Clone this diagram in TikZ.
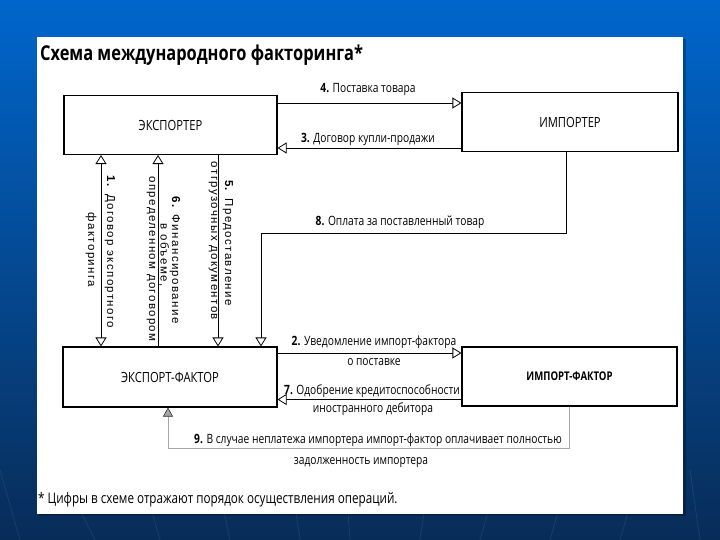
\documentclass[tikz,border=0pt]{standalone}
\usepackage{fontspec}
\setmainfont{Open Sans}
\newfontfamily\cf[FakeStretch=0.8]{Open Sans}
\newfontfamily\vf[LetterSpace=12]{Liberation Sans}
\usetikzlibrary{arrows.meta,calc}
\definecolor{slideTop}{RGB}{0,102,204}
\definecolor{slideBot}{RGB}{8,44,88}
\tikzset{
  box/.style={draw=black,line width=1.1pt,fill=white,inner sep=0pt,font=\cf\fontsize{14}{16}\selectfont},
  arr/.style={line width=0.8pt,-{Triangle[length=9pt,width=11pt,fill=white,line width=0.8pt]}},
  arrb/.style={line width=0.8pt,{Triangle[length=9pt,width=11pt,fill=white,line width=0.8pt]}-{Triangle[length=9pt,width=11pt,fill=white,line width=0.8pt]}},
  garr/.style={line width=0.8pt,draw=gray!70,-{Triangle[length=9pt,width=10pt,fill=gray!70,color=gray!40!black,line width=0.6pt]}},
  lbl/.style={font=\cf\fontsize{12.8}{14}\selectfont,inner sep=0pt},
  vlbl/.style={font=\vf\fontsize{11.5}{13}\selectfont,inner sep=0pt,rotate=-90},
}
\begin{document}
\begin{tikzpicture}[x=1pt,y=-1pt]
% background
\shade[top color=slideTop,bottom color=slideBot] (0,0) rectangle (720,540);
\useasboundingbox (0,0) rectangle (720,540);
\foreach \a/\b in {20/0,95/60,160/140,230/215,300/290,350/345,420/430,480/500,550/570,620/640,700/690}
  \draw[white,opacity=0.08,line width=0.8pt] (\a,540) -- (\b,470);
\fill[black,opacity=0.25] (39,39) rectangle (686,516);
\fill[white] (37,37) rectangle (683,514);
% title
\node[anchor=west,inner sep=0pt,font=\cf\bfseries\fontsize{20.5}{24}\selectfont] (title) at (40,55) {Схема международного факторинга*};
% boxes
\node[box,minimum width=213pt,minimum height=59pt] (exp) at (170.5,125) {ЭКСПОРТЕР};
\node[box,minimum width=216pt,minimum height=59pt] (imp) at (570,122) {ИМПОРТЕР};
\node[box,minimum width=214pt,minimum height=60pt] (ef) at (170,377) {ЭКСПОРТ-ФАКТОР};
\node[box,minimum width=215pt,minimum height=59pt,font=\cf\bfseries\fontsize{12}{14}\selectfont] (if) at (569.5,376.5) {ИМПОРТ-ФАКТОР};
% coordinates
\coordinate (v1) at (101,0);
\coordinate (v6) at (158,0);
\coordinate (v5) at (218,0);
\coordinate (c8a) at (566,233);
\coordinate (c8b) at (261,233);
\coordinate (c9a) at (569,448);
\coordinate (c9b) at (168,448);
% connectors
\draw[arr] ([yshift=22pt]exp.east) -- ([yshift=22pt]exp.east -| imp.west);
\draw[arr] ([yshift=-26pt]imp.west) -- ([yshift=-26pt]imp.west -| exp.east);
\draw[arr] (imp.south -| c8a) -- (c8a) -- (c8b) -- (c8b |- ef.north);
\draw[arrb] (v1 |- exp.south) -- (v1 |- ef.north);
\draw[arr] (v6 |- ef.north) -- (v6 |- exp.south);
\draw[arr] (v5 |- exp.south) -- (v5 |- ef.north);
\draw[arr] ([yshift=24pt]ef.east) -- ([yshift=24pt]ef.east -| if.west);
\draw[arr] ([yshift=-23pt]if.west) -- ([yshift=-23pt]if.west -| ef.east);
\draw[garr] (if.south -| c9a) -- (c9a) -- (c9b) -- (c9b |- ef.south);
% labels
\node[lbl] (l4) at (368,89) {\textbf{4.} Поставка товара};
\node[lbl] (l3) at (368,139) {\textbf{3.} Договор купли-продажи};
\node[lbl] (l8) at (400,222) {\textbf{8.} Оплата за поставленный товар};
\node[lbl] (l2a) at (374,342) {\textbf{2.} Уведомление импорт-фактора};
\node[lbl] (l2b) at (374,362) {о поставке};
\node[lbl] (l7a) at (372,391) {\textbf{7.} Одобрение кредитоспособности};
\node[lbl] (l7b) at (373,409) {иностранного дебитора};
\node[lbl] (l9a) at (378,440) {\textbf{9.} В случае неплатежа импортера импорт-фактор оплачивает полностью};
\node[lbl] (l9b) at (361,463) {задолженность импортера};
\node[vlbl] (l1a) at (110,252) {\textbf{1.} Договор экспортного};
\node[vlbl] (l1b) at (91,250) {факторинга};
\node[vlbl] (l6a) at (175,260) {\textbf{6.} Финансирование};
\node[vlbl] (l6b) at (164,255) {в объеме,};
\node[vlbl] (l6c) at (151,259) {определенном договором};
\node[vlbl] (l5a) at (228,243) {\textbf{5.} Предоставление};
\node[vlbl] (l5b) at (213,241) {отгрузочных документов};
% footnote
\node[anchor=west,inner sep=0pt,font=\cf\fontsize{14.6}{16}\selectfont] (foot) at (38,500) {* Цифры в схеме отражают порядок осуществления операций.};
\end{tikzpicture}
\end{document}
